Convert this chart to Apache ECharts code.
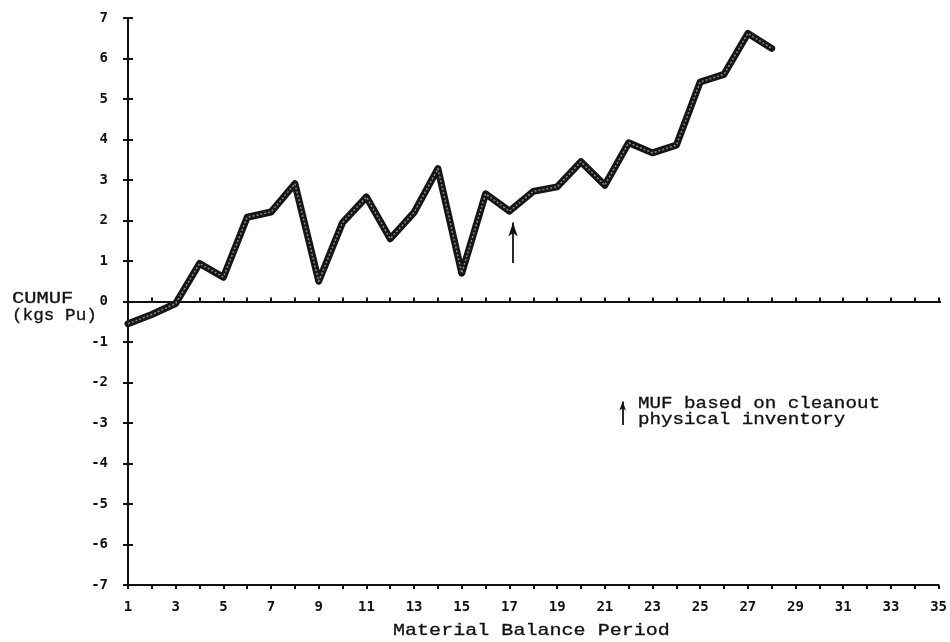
<!DOCTYPE html>
<html>
<head>
<meta charset="utf-8">
<script src="https://cdn.jsdelivr.net/npm/echarts@6/dist/echarts.min.js"></script>
<style>html,body{margin:0;padding:0;background:#fff}#c{width:950px;height:642px}</style>
</head>
<body>
<div id="c"></div>
<script>
// Data
const periods = [1,2,3,4,5,6,7,8,9,10,11,12,13,14,15,16,17,18,19,20,21,22,23,24,25,26,27,28];
const cumuf = [-0.55,-0.32,-0.05,0.94,0.60,2.08,2.21,2.91,0.50,1.95,2.58,1.55,2.20,3.28,0.70,2.66,2.23,2.72,2.83,3.45,2.87,3.92,3.67,3.86,5.42,5.61,6.62,6.25];
const xTicks = {min:1, max:35, interval:1};
const yTicks = {min:-7, max:7, interval:1};
const cleanoutArrow = [[17.15, 0.95], [17.15, 1.95]];
const noteArrow = [[21.75, -3.05], [21.75, -2.47]];
const yLabelText = ['CUMUF', '(kgs Pu)'];
const xTitle = 'Material Balance Period';
const noteText = ['MUF based on cleanout', 'physical inventory'];

const seriesData = periods.map((p, i) => [p, cumuf[i]]);
const FONT = 'Liberation Mono';
const labelFont = {fontFamily: 'DejaVu Sans Mono', fontWeight: 'bold', fontSize: 14, color: '#111'};

function txt(s, x, y, sx, fs) {
  return {type: 'text', x: x, y: y, scaleX: sx || 1.17, z: 10,
    style: {text: s, font: (fs || 17) + 'px "' + FONT + '"', fill: '#111', textAlign: 'left', textVerticalAlign: 'middle',
      stroke: '#111', lineWidth: 0.3}};
}

const chart = echarts.init(document.getElementById('c'), null, {renderer: 'canvas'});
chart.setOption({
  animation: false,
  backgroundColor: '#fff',
  grid: {left: 128, right: 11, top: 18, bottom: 57, containLabel: false},
  xAxis: [{
    type: 'value', min: xTicks.min, max: xTicks.max, interval: xTicks.interval,
    axisLine: {show: true, onZero: false, lineStyle: {color: '#111', width: 2}},
    axisTick: {show: true, length: 4, lineStyle: {color: '#111', width: 2}},
    splitLine: {show: false},
    axisLabel: Object.assign({margin: 15, formatter: v => (v % 2 === 1 ? String(v) : '')}, labelFont)
  }, {
    type: 'value', position: 'bottom', min: xTicks.min, max: xTicks.max, interval: xTicks.interval,
    axisLine: {show: false}, axisLabel: {show: false}, splitLine: {show: false},
    axisTick: {show: true, inside: true, length: 4, lineStyle: {color: '#111', width: 2}}
  }],
  yAxis: [{
    type: 'value', min: yTicks.min, max: yTicks.max, interval: yTicks.interval,
    axisLine: {show: true, onZero: false, lineStyle: {color: '#111', width: 2}},
    axisTick: {show: true, length: 5, lineStyle: {color: '#111', width: 2}},
    splitLine: {show: false},
    axisLabel: Object.assign({margin: 20}, labelFont)
  }, {
    type: 'value', position: 'left', min: yTicks.min, max: yTicks.max, interval: yTicks.interval,
    axisLine: {show: false}, axisLabel: {show: false}, splitLine: {show: false},
    axisTick: {show: true, inside: true, length: 5, lineStyle: {color: '#111', width: 2}}
  }],
  series: [{
    type: 'line', data: seriesData, symbol: 'none', z: 5,
    lineStyle: {color: '#151515', width: 7, join: 'round', cap: 'round'},
    markLine: {
      silent: true, animation: false,
      label: {show: false},
      data: [
        [{yAxis: 0, x: 128, symbol: 'none'}, {yAxis: 0, x: 941, symbol: 'none'}],
        [{coord: cleanoutArrow[0], symbol: 'none'}, {coord: cleanoutArrow[1], symbol: 'arrow', symbolSize: [7, 14]}],
        [{coord: noteArrow[0], symbol: 'none'}, {coord: noteArrow[1], symbol: 'arrow', symbolSize: [5, 9]}]
      ],
      lineStyle: {color: '#111', width: 1.8, type: 'solid'}
    }
  }, {
    type: 'line', data: seriesData, symbol: 'none', z: 6,
    lineStyle: {color: '#8a8a8a', width: 1.5, type: [2, 2], join: 'round'}
  }],
  graphic: [
    txt(yLabelText[0], 12, 298, 1.2),
    txt(yLabelText[1], 12, 315, 1.04),
    txt(xTitle, 393, 630, 1.18),
    txt(noteText[0], 638, 404, 1.2, 16),
    txt(noteText[1], 638, 420, 1.2, 16)
  ]
});
</script>
</body>
</html>
